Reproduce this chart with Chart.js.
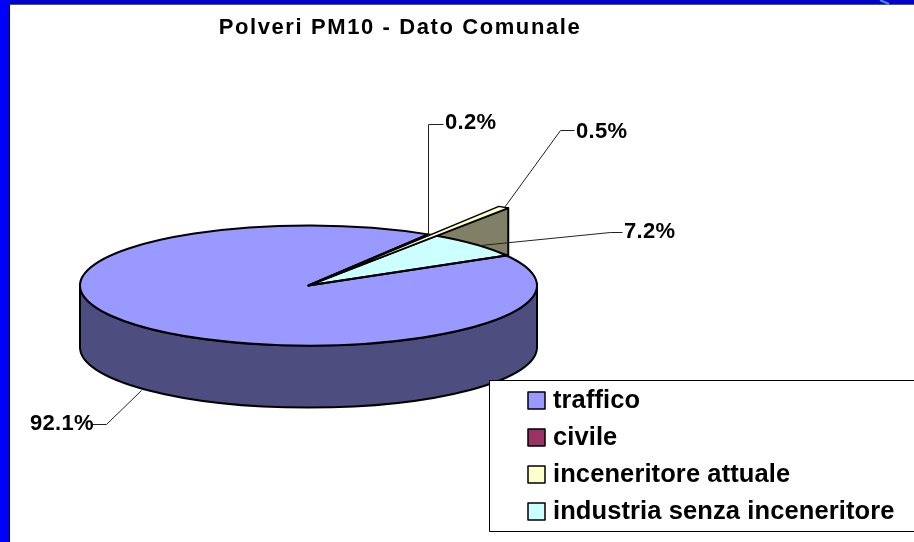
<!DOCTYPE html>
<html>
<head>
<meta charset="utf-8">
<style>html,body{margin:0;padding:0;background:#fff;overflow:hidden}canvas{display:block}</style>
<script src="https://cdn.jsdelivr.net/npm/chart.js@4"></script>
</head>
<body>
<canvas id="c" width="914" height="542"></canvas>
<script>
const titleText = "Polveri PM10 - Dato Comunale";
const categories = ["traffico", "civile", "inceneritore attuale", "industria senza inceneritore"];
const values = [92.1, 0.2, 0.5, 7.2];
const valueLabels = ["92.1%", "0.2%", "0.5%", "7.2%"];
const colors = ["#9999FF", "#993366", "#FFFFCC", "#CCFFFF"];

const FONT = '"Liberation Sans", Arial, sans-serif';
const TILT = 60 / 228.5, DEPTH = 62, TIP = 1.56;
const SIDE = "#4D4D80", WALL = "#808066";
const leaders = [
  {pts: [[141,390],[106,424],[92,424]], x: 30, y: 424},
  {pts: [[428,236],[428,124],[443,124]], x: 445, y: 123},
  {pts: [[504,207],[560,130],[574,130]], x: 576, y: 132},
  {pts: [[480,245],[610,232],[622,232]], x: 624, y: 232}
];

const pie3d = {
  id: "pie3d",
  beforeDraw(chart) {
    const c = chart.ctx;
    c.save();
    c.fillStyle = "#fff"; c.fillRect(0, 0, 914, 542);
    c.fillStyle = "#0000CC"; c.fillRect(10, 0, 904, 4);
    c.fillStyle = "#0000FF"; c.fillRect(0, 0, 9, 542); c.fillRect(0, 0, 10, 4);
    c.fillStyle = "#555566"; c.fillRect(10, 4, 904, 1);
    c.fillStyle = "#000033"; c.fillRect(9, 4, 1, 538);
    c.strokeStyle = "#3F8FFF"; c.lineWidth = 2;
    c.beginPath(); c.moveTo(880, 0); c.lineTo(889, 4); c.stroke();
    c.restore();
  },
  beforeDatasetDraw(chart) {
    const c = chart.ctx, arcs = chart.getDatasetMeta(0).data, a = arcs[0];
    const cx = a.x, cy = a.y, rx = a.outerRadius, ry = rx * TILT;
    const pt = (ang, k) => [cx + Math.cos(ang) * rx * k, cy + Math.sin(ang) * ry * k];
    c.save();
    c.lineWidth = 2; c.strokeStyle = "#000"; c.lineJoin = "round";
    c.beginPath();
    c.ellipse(cx, cy, rx, ry, 0, 0, Math.PI);
    c.ellipse(cx, cy + DEPTH, rx, ry, 0, Math.PI, 0, true);
    c.closePath();
    c.fillStyle = SIDE; c.fill(); c.stroke();
    const tip = pt(arcs[2].endAngle, TIP), foot = pt(arcs[3].endAngle, 1), inner = pt(arcs[2].endAngle, 1);
    c.beginPath();
    c.moveTo(tip[0], tip[1]); c.lineTo(tip[0], foot[1]); c.lineTo(inner[0], inner[1]); c.closePath();
    c.fillStyle = WALL; c.fill(); c.stroke();
    c.restore();
    c.save();
    c.translate(cx, cy); c.scale(1, TILT); c.translate(-cx, -cy);
  },
  afterDatasetDraw(chart) {
    const c = chart.ctx, arcs = chart.getDatasetMeta(0).data, a = arcs[0];
    c.restore();
    const cx = a.x, cy = a.y, rx = a.outerRadius, ry = rx * TILT;
    const pt = (ang, k) => [cx + Math.cos(ang) * rx * k, cy + Math.sin(ang) * ry * k];
    c.save();
    c.lineWidth = 2; c.strokeStyle = "#000"; c.lineJoin = "round";
    arcs.forEach((el, i) => {
      if (i === 2) return;
      c.beginPath();
      c.moveTo(cx, cy);
      c.ellipse(cx, cy, rx, ry, 0, el.startAngle, el.endAngle);
      c.closePath();
      c.stroke();
    });
    const el = arcs[2];
    const p1 = pt(el.startAngle, TIP), p2 = pt(el.endAngle, TIP);
    c.beginPath(); c.moveTo(cx, cy); c.lineTo(p1[0], p1[1]); c.lineTo(p2[0], p2[1]); c.closePath();
    c.fillStyle = colors[2]; c.fill(); c.lineWidth = 1.5; c.stroke();
    c.lineWidth = 1; c.strokeStyle = "#222";
    c.fillStyle = "#000"; c.font = "bold 22px " + FONT; c.textBaseline = "middle"; c.textAlign = "left";
    c.letterSpacing = "0.3px";
    leaders.forEach((l, i) => {
      c.beginPath();
      l.pts.forEach((p, j) => j ? c.lineTo(p[0] + .5, p[1] + .5) : c.moveTo(p[0] + .5, p[1] + .5));
      c.stroke();
      c.fillText(valueLabels[i], l.x, l.y);
    });
    c.font = "bold 22px " + FONT; c.textAlign = "center";
    c.letterSpacing = "1.6px";
    c.fillText(titleText, 400, 28);
    c.letterSpacing = "0.1px";
    c.fillStyle = "#fff"; c.strokeStyle = "#000"; c.lineWidth = 1;
    c.beginPath(); c.rect(489.5, 380.5, 440, 151); c.fill(); c.stroke();
    c.font = "bold 25.5px " + FONT; c.textAlign = "left";
    categories.forEach((name, i) => {
      const y = 401 + i * 37;
      c.fillStyle = colors[i]; c.fillRect(528, y - 9, 17, 17);
      c.strokeStyle = "#000"; c.lineWidth = 1.5; c.strokeRect(528, y - 9, 17, 17);
      c.fillStyle = "#000"; c.fillText(name, 553, y);
    });
    c.restore();
  }
};

new Chart(document.getElementById("c"), {
  type: "pie",
  data: {
    labels: categories,
    datasets: [{ data: values, backgroundColor: colors, borderWidth: 0 }]
  },
  options: {
    responsive: false,
    animation: false,
    rotation: 60,
    layout: { padding: { left: 80, right: 377, top: 57, bottom: 28 } },
    plugins: { legend: { display: false }, title: { display: false }, tooltip: { enabled: false } }
  },
  plugins: [pie3d]
});
</script>
</body>
</html>
